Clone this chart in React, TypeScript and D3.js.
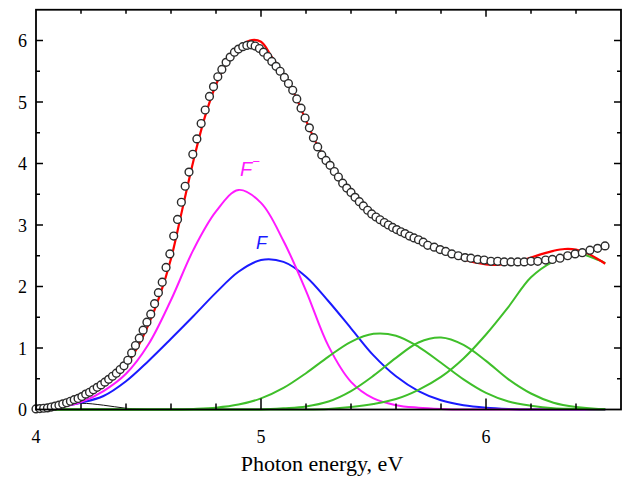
import React from "react";
import * as d3 from "d3";

// energy grid (eV) for the fitted bands
const bandE = [4.0, 4.1, 4.2, 4.3, 4.4, 4.5, 4.6, 4.7, 4.8, 4.9, 5.0, 5.1, 5.2, 5.3, 5.4, 5.5, 5.6, 5.7, 5.8, 5.9, 6.0, 6.1, 6.2, 6.3, 6.4, 6.5, 6.53];
const fMinusBand = [0, 0.03, 0.12, 0.3, 0.58, 1.06, 1.78, 2.6, 3.22, 3.57, 3.36, 2.74, 1.93, 1.03, 0.45, 0.18, 0.07, 0.03, 0.01, 0, 0, 0, 0, 0, 0, 0, 0];
const fBand = [0.01, 0.04, 0.11, 0.22, 0.46, 0.79, 1.15, 1.52, 1.9, 2.24, 2.43, 2.4, 2.16, 1.76, 1.32, 0.88, 0.54, 0.3, 0.15, 0.07, 0.03, 0.01, 0, 0, 0, 0, 0];
const green1 = [0, 0, 0, 0, 0, 0, 0, 0.01, 0.03, 0.08, 0.18, 0.35, 0.59, 0.86, 1.1, 1.23, 1.2, 1.02, 0.76, 0.49, 0.27, 0.13, 0.06, 0.02, 0.01, 0, 0];
const green2 = [0, 0, 0, 0, 0, 0, 0, 0, 0, 0, 0, 0.02, 0.05, 0.13, 0.3, 0.55, 0.84, 1.09, 1.17, 1.05, 0.79, 0.49, 0.26, 0.11, 0.04, 0.01, 0.01];
const green3 = [0, 0, 0, 0, 0, 0, 0, 0, 0, 0, 0, 0, 0, 0.01, 0.04, 0.09, 0.17, 0.32, 0.53, 0.83, 1.22, 1.67, 2.15, 2.41, 2.54, 2.43, 2.38];

// small band near 4.2 eV
const smallE = [4.0, 4.1, 4.2, 4.3, 4.4, 4.5];
const smallBand = [0.01, 0.05, 0.1, 0.07, 0.02, 0];

// total fit
const fitE = [4.0, 4.05, 4.1, 4.15, 4.2, 4.25, 4.3, 4.35, 4.4, 4.45, 4.5, 4.55, 4.6, 4.65, 4.7, 4.75, 4.8, 4.85, 4.9, 4.95, 5.0, 5.05, 5.1, 5.15, 5.2, 5.25, 5.3, 5.35, 5.4, 5.45, 5.5, 5.55, 5.6, 5.65, 5.7, 5.75, 5.8, 5.85, 5.9, 5.95, 6.0, 6.05, 6.1, 6.15, 6.2, 6.25, 6.3, 6.35, 6.4, 6.45, 6.5, 6.53];
const fitTotal = [0.02, 0.04, 0.07, 0.12, 0.19, 0.28, 0.39, 0.53, 0.72, 1.0, 1.38, 1.85, 2.45, 3.25, 4.05, 4.75, 5.28, 5.65, 5.88, 6.0, 5.98, 5.72, 5.45, 5.12, 4.7, 4.3, 3.98, 3.73, 3.52, 3.33, 3.16, 3.03, 2.93, 2.84, 2.76, 2.67, 2.58, 2.5, 2.44, 2.39, 2.36, 2.35, 2.37, 2.41, 2.47, 2.53, 2.58, 2.61, 2.6, 2.54, 2.44, 2.37];

// measured points
const measE = [
  4.0, 4.017, 4.034, 4.051, 4.068, 4.085, 4.102, 4.119, 4.136, 4.153, 4.17, 4.187, 4.204, 4.221, 4.238, 4.255, 4.272, 4.289, 4.306, 4.323,
  4.34, 4.357, 4.374, 4.391, 4.408, 4.425, 4.442, 4.459, 4.476, 4.493, 4.51, 4.527, 4.544, 4.561, 4.578, 4.595, 4.612, 4.629, 4.646, 4.663,
  4.68, 4.697, 4.715, 4.734, 4.752, 4.771, 4.789, 4.808, 4.826, 4.845, 4.863, 4.882, 4.9, 4.919, 4.937, 4.956, 4.974, 4.993, 5.011, 5.03,
  5.048, 5.067, 5.085, 5.104, 5.122, 5.141, 5.159, 5.178, 5.196, 5.215, 5.233, 5.252, 5.27, 5.289, 5.307, 5.326, 5.344, 5.363, 5.381, 5.4,
  5.418, 5.437, 5.455, 5.474, 5.492, 5.511, 5.529, 5.548, 5.566, 5.585, 5.603, 5.622, 5.64, 5.66, 5.68, 5.7, 5.721, 5.741, 5.77, 5.796,
  5.821, 5.848, 5.877, 5.907, 5.933, 5.963, 5.992, 6.022, 6.052, 6.081, 6.111, 6.141, 6.17, 6.2, 6.23, 6.265, 6.295, 6.329, 6.363, 6.396,
  6.428, 6.462, 6.496, 6.529,
];
const measA = [
  0.01, 0.015, 0.02, 0.026, 0.04, 0.055, 0.07, 0.09, 0.11, 0.134, 0.16, 0.18, 0.21, 0.25, 0.28, 0.32, 0.36, 0.4, 0.445, 0.49,
  0.54, 0.59, 0.65, 0.71, 0.8, 0.92, 1.04, 1.16, 1.29, 1.42, 1.55, 1.72, 1.9, 2.07, 2.31, 2.53, 2.82, 3.09, 3.37, 3.63,
  3.86, 4.15, 4.4, 4.65, 4.87, 5.09, 5.25, 5.41, 5.53, 5.645, 5.73, 5.81, 5.86, 5.9, 5.92, 5.93, 5.91, 5.87, 5.81, 5.74,
  5.66, 5.58, 5.5, 5.4, 5.3, 5.19, 5.05, 4.9, 4.74, 4.58, 4.42, 4.27, 4.14, 4.05, 3.97, 3.87, 3.78, 3.68, 3.6, 3.53,
  3.45, 3.38, 3.31, 3.24, 3.18, 3.13, 3.085, 3.04, 3.0, 2.96, 2.925, 2.89, 2.86, 2.82, 2.79, 2.76, 2.72, 2.67, 2.64, 2.6,
  2.57, 2.53, 2.5, 2.47, 2.46, 2.44, 2.43, 2.41, 2.41, 2.4, 2.4, 2.4, 2.4, 2.41, 2.41, 2.43, 2.44, 2.46, 2.5, 2.53,
  2.55, 2.59, 2.62, 2.66,
];

const xLabels = [4, 5, 6];
const yLabels = [0, 1, 2, 3, 4, 5, 6];

const W = 631;
const H = 477;
const plot = { left: 36, right: 621, top: 9.75, bottom: 409.5 };

export default function App() {
  const x = d3.scaleLinear().domain([4, 6.6]).range([plot.left, plot.right]);
  const y = d3.scaleLinear().domain([0, 6.5]).range([plot.bottom, plot.top]);

  const line = (xs: number[], ys: number[]) =>
    d3
      .line<number>()
      .x((_, i) => x(xs[i]))
      .y((d) => y(d))
      .curve(d3.curveCatmullRom.alpha(0.5))(ys) || "";

  const xTicks = x.ticks(13);
  const yTicks = y.ticks(13);
  const isInt = (v: number) => Math.abs(v - Math.round(v)) < 1e-6;
  const serif = "'Liberation Serif', 'Times New Roman', serif";
  const sans = "'Liberation Sans', Arial, sans-serif";
  const green = "#3fbf2a";

  return (
    <svg width={W} height={H} style={{ position: "absolute", left: 0, top: 0, background: "#fff" }}>
      {/* bands */}
      <path d={line(smallE, smallBand)} fill="none" stroke="#111" strokeWidth={1} />
      <path d={line(bandE, fBand)} fill="none" stroke="#1a1aff" strokeWidth={2} />
      <path d={line(bandE, fMinusBand)} fill="none" stroke="#ff1aff" strokeWidth={2} />
      <path d={line(bandE, green1)} fill="none" stroke={green} strokeWidth={2} />
      <path d={line(bandE, green2)} fill="none" stroke={green} strokeWidth={2} />
      <path d={line(bandE, green3)} fill="none" stroke={green} strokeWidth={2} />
      <path d={line(fitE, fitTotal)} fill="none" stroke="#ff0000" strokeWidth={2.2} />

      {measE.map((e, i) => (
        <circle key={i} cx={x(e)} cy={y(measA[i])} r={3.9} fill="#fff" stroke="#2b2b2b" strokeWidth={1.4} />
      ))}

      {/* band labels */}
      <text x={240} y={176} fill="#ff1aff" fontFamily={sans} fontStyle="italic" fontSize={20}>
        F<tspan dy={-10} fontSize={13}>−</tspan>
      </text>
      <text x={256} y={248.5} fill="#1a1aff" fontFamily={sans} fontStyle="italic" fontSize={18}>
        F
      </text>

      {/* frame */}
      <rect
        x={plot.left}
        y={plot.top}
        width={plot.right - plot.left}
        height={plot.bottom - plot.top}
        fill="none"
        stroke="#000"
        strokeWidth={1.8}
      />

      {/* x ticks bottom & top */}
      {xTicks
        .filter((t) => t > 4.001 && t < 6.599)
        .map((t) => (
          <g key={"xt" + t}>
            <line x1={x(t)} x2={x(t)} y1={plot.bottom} y2={plot.bottom - (isInt(t) ? 11 : 6)} stroke="#000" strokeWidth={1.5} />
            <line x1={x(t)} x2={x(t)} y1={plot.top} y2={plot.top + (isInt(t) ? 7 : 4)} stroke="#000" strokeWidth={1.5} />
          </g>
        ))}
      {/* y ticks left & right */}
      {yTicks
        .filter((t) => t > 0.001 && t < 6.499)
        .map((t) => (
          <g key={"yt" + t}>
            <line x1={plot.left} x2={plot.left + (isInt(t) ? 7 : 4)} y1={y(t)} y2={y(t)} stroke="#000" strokeWidth={1.5} />
            <line x1={plot.right} x2={plot.right - (isInt(t) ? 7 : 4)} y1={y(t)} y2={y(t)} stroke="#000" strokeWidth={1.5} />
          </g>
        ))}

      {xLabels.map((t) => (
        <text key={"xl" + t} x={x(t)} y={443} textAnchor="middle" fontFamily={serif} fontSize={18} fill="#000">
          {t}
        </text>
      ))}
      {yLabels.map((t) => (
        <text key={"yl" + t} x={27} y={y(t) + 6.5} textAnchor="end" fontFamily={serif} fontSize={18} fill="#000">
          {t}
        </text>
      ))}

      <text x={322} y={471} textAnchor="middle" fontFamily={serif} fontSize={22} fill="#000">
        Photon energy, eV
      </text>
    </svg>
  );
}
